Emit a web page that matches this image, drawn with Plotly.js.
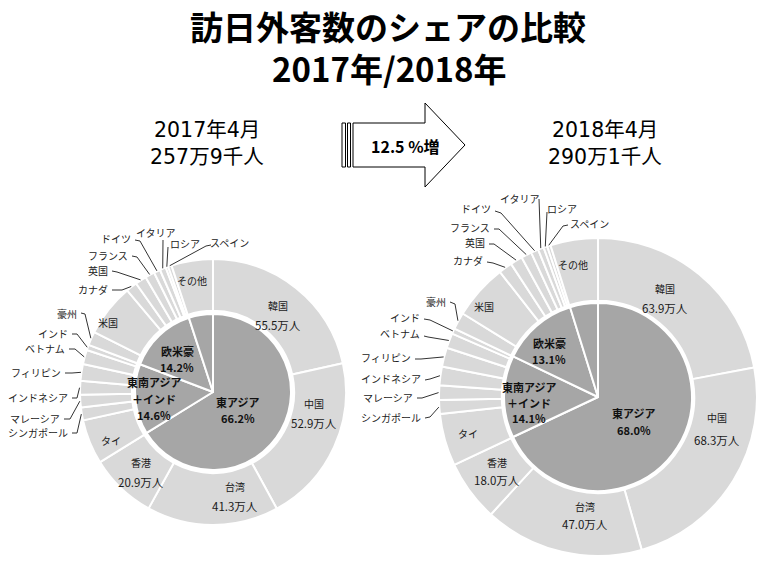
<!DOCTYPE html>
<html><head><meta charset="utf-8">
<script src="https://cdn.plot.ly/plotly-3.0.1.min.js"></script>
<style>html,body{margin:0;padding:0;background:#fff}#chart{width:775px;height:567px}</style>
</head><body><div id="chart"></div>
<script>
// ---------- data ----------
const countries = ['韓国','中国','台湾','香港','タイ','シンガポール','マレーシア','インドネシア','フィリピン','ベトナム','インド','豪州','米国','カナダ','英国','フランス','ドイツ','イタリア','ロシア','スペイン','その他'];
const visitors2017 = [55.5, 52.9, 41.3, 20.9, 14.0, 4.0, 4.0, 4.3, 5.2, 4.5, 1.7, 4.3, 16.5, 3.5, 3.5, 3.0, 2.0, 1.9, 0.8, 1.1, 13.0];
const visitors2018 = [63.9, 68.3, 47.0, 18.0, 15.4, 4.1, 4.3, 5.5, 5.6, 4.4, 1.6, 5.0, 16.3, 4.0, 3.6, 3.1, 2.2, 1.7, 1.1, 1.0, 14.0];
const regions = ['東アジア','東南アジア|＋インド','欧米豪','その他'];
const share2017 = [66.2, 14.6, 14.2, 5.0];
const share2018 = [68.0, 14.1, 13.1, 4.8];
const periods = ['2017年4月','2018年4月'];
const totals = ['257万9千人','290万1千人'];
const growthLabel = '12.5 %増';
const titleLines = ['訪日外客数のシェアの比較','2017年/2018年'];
const unit = '万人';

// ---------- layout constants ----------
const W = 775, H = 567;
const FONT = '"Noto Sans CJK JP", "Noto Sans", sans-serif';
const FONT_SUB = '"DejaVu Sans", "Noto Sans CJK JP", sans-serif';
const px = x => x / W, py = y => 1 - y / H;
const charts = [
  {values: visitors2017, shares: share2017, cx: 213, cy: 392, R: 133, r: 78, hole: 0.61,
   regionText: {0: [238, [402, 418]], 1: [154, [382, 398.5, 415]], 2: [177, [351, 367]]},
   ringText: {0: [278, 305, 325], 1: [314, 403, 423], 2: [235, 486, 506], 3: [141, 462, 482],
              4: [111, 440], 12: [108, 322], 20: [192, 281]},
   labels: {
     5: {t:[70,432,'right'], s:[72,433], e:[77,433]},
     6: {t:[62,418,'right'], s:[64,419], e:[70,419]},
     7: {t:[70,397,'right'], s:[72,398], e:[77,398]},
     8: {t:[63,372,'right'], s:[65,373], e:[72,373]},
     9: {t:[67,348,'right'], s:[69,349], e:[75,349]},
     10:{t:[70,333,'right'], s:[72,334], e:[77,334]},
     11:{t:[79,313,'right'], s:[81,313], e:[85,314]},
     13:{t:[110,289,'right'], s:[112,290], e:[122,290]},
     14:{t:[110,270,'right'], s:[112,271], e:[117,272]},
     15:{t:[130,255,'right'], s:[132,256], e:[137,257]},
     16:{t:[133,238,'right'], s:[135,240], e:[140,241]},
     17:{t:[156,232,'center'], s:[163,240]},
     18:{t:[185,243,'center'], s:[168,247]},
     19:{t:[230,242,'center'], s:[211,245], e:[206,246]}
   }},
  {values: visitors2018, shares: share2018, cx: 598, cy: 397, R: 159, r: 94, hole: 0.605,
   regionText: {0: [634, [413, 430]], 1: [529, [387, 402.5, 418]], 2: [549, [343, 359]]},
   ringText: {0: [665, 288, 308], 1: [717, 417, 440], 2: [585, 506, 524], 3: [497, 462, 480],
              4: [468, 433], 12: [484, 306], 20: [573, 265]},
   labels: {
     5: {t:[423,417,'right'], s:[425,418], e:[430,417]},
     6: {t:[415,397,'right'], s:[417,398], e:[422,398]},
     7: {t:[423,378,'right'], s:[425,380], e:[430,379]},
     8: {t:[413,357,'right'], s:[415,359], e:[421,359]},
     9: {t:[422,333,'right'], s:[424,336], e:[428,337]},
     10:{t:[422,317,'right'], s:[424,319], e:[430,320]},
     11:{t:[448,301,'right'], s:[450,302], e:[455,304]},
     13:{t:[485,260,'right'], s:[487,262], e:[493,263]},
     14:{t:[487,242,'right'], s:[489,244], e:[494,244]},
     15:{t:[492,227,'right'], s:[494,229], e:[499,229]},
     16:{t:[493,209,'right'], s:[495,211], e:[501,213]},
     17:{t:[520,198,'center'], s:[539,199]},
     18:{t:[562,209,'center'], s:[547,212]},
     19:{t:[589,223,'center'], s:[568,225], e:[563,226]}
   }}
];

const traces = [], annotations = [], shapes = [];
const note = (x, y, text, size, opts) => annotations.push(Object.assign({
  xref: 'paper', yref: 'paper', x: px(x), y: py(y), xanchor: 'center', yanchor: 'middle',
  text: text, showarrow: false, font: {family: FONT, size: size, color: '#1a1a1a'}}, opts || {}));

charts.forEach(c => {
  // inner pie (regions)
  traces.push({
    type: 'pie', values: c.shares, labels: regions.map(s => 'r_' + s),
    sort: false, direction: 'clockwise', rotation: 0,
    domain: {x: [px(c.cx - c.r), px(c.cx + c.r)], y: [py(c.cy + c.r), py(c.cy - c.r)]},
    marker: {colors: regions.map(() => '#a6a6a6'), line: {color: '#ffffff', width: 2}},
    textinfo: 'none', hoverinfo: 'skip', showlegend: false
  });
  // outer ring (countries)
  traces.push({
    type: 'pie', values: c.values, labels: countries.map(s => 'c_' + s),
    sort: false, direction: 'clockwise', rotation: 0, hole: c.hole,
    domain: {x: [px(c.cx - c.R), px(c.cx + c.R)], y: [py(c.cy + c.R), py(c.cy - c.R)]},
    marker: {colors: countries.map(() => '#d9d9d9'), line: {color: '#ffffff', width: 2}},
    textinfo: 'none', hoverinfo: 'skip', showlegend: false
  });
  // region labels in the inner pie
  Object.keys(c.regionText).forEach(k => {
    const i = +k, [x, ys] = c.regionText[k];
    const lines = regions[i].split('|').concat([c.shares[i].toFixed(1) + '%']);
    lines.forEach((t, j) => note(x, ys[j], '<b>' + t + '</b>', 11, {font: {family: FONT, size: 11, color: '#111', weight: 'bold'}}));
  });
  // country labels inside the ring
  Object.keys(c.ringText).forEach(k => {
    const i = +k, p = c.ringText[k];
    note(p[0], p[1], countries[i], 10);
    if (p.length > 2) note(p[0], p[2], c.values[i].toFixed(1) + unit, 11.5);
  });
  // outside labels with leader lines to the ring, at each slice's mid-angle
  const total = c.values.reduce((a, b) => a + b, 0);
  let cum = 0;
  const mids = c.values.map(v => { const m = cum + v / 2; cum += v; return m / total * 2 * Math.PI; });
  Object.keys(c.labels).forEach(k => {
    const i = +k, L = c.labels[k];
    const a = mids[i];
    const rx = c.cx + (c.R + 0.5) * Math.sin(a), ry = c.cy - (c.R + 0.5) * Math.cos(a);
    note(L.t[0], L.t[1], countries[i], 10, {xanchor: L.t[2], font: {family: FONT, size: 10, color: '#222'}});
    let path = 'M' + px(L.s[0]) + ',' + py(L.s[1]);
    if (L.e) path += ' L' + px(L.e[0]) + ',' + py(L.e[1]);
    path += ' L' + px(rx) + ',' + py(ry);
    shapes.push({type: 'path', xref: 'paper', yref: 'paper', path: path, line: {color: '#333', width: 1}});
  });
});

// title (two lines)
note(388, 26, titleLines[0], 33, {font: {family: FONT, size: 33, color: '#000', weight: 'bold'}});
note(389, 68, titleLines[1], 33, {font: {family: FONT, size: 33, color: '#000', weight: 'bold'}});
// period subtitles
[[207, 0], [605, 1]].forEach(([x, i]) => {
  note(x, 130, periods[i], 20.5, {font: {family: FONT_SUB, size: 20.5, color: '#000'}});
  note(x, 157, totals[i], 20.5, {font: {family: FONT_SUB, size: 20.5, color: '#000'}});
});
// arrow
const P = (x, y) => px(x) + ',' + py(y);
shapes.push({type:'rect', xref:'paper', yref:'paper', x0: px(342), x1: px(345.5), y0: py(167), y1: py(123),
  fillcolor:'#fff', line:{color:'#000', width:1}});
shapes.push({type:'rect', xref:'paper', yref:'paper', x0: px(347.5), x1: px(350.5), y0: py(167), y1: py(123),
  fillcolor:'#fff', line:{color:'#000', width:1}});
shapes.push({type:'path', xref:'paper', yref:'paper',
  path: 'M' + P(353,123) + ' L' + P(425,123) + ' L' + P(425,103) + ' L' + P(465,145) + ' L' + P(425,187) + ' L' + P(425,167) + ' L' + P(353,167) + ' Z',
  fillcolor:'#fff', line:{color:'#000', width:1}});
note(405, 146, growthLabel, 16, {font: {family: FONT, size: 16, color: '#000', weight: 'bold'}});

Plotly.newPlot('chart', traces, {
  width: W, height: H, margin: {l:0, r:0, t:0, b:0},
  paper_bgcolor: '#fff', plot_bgcolor: '#fff', showlegend: false,
  annotations: annotations, shapes: shapes
}, {staticPlot: true});
</script></body></html>
